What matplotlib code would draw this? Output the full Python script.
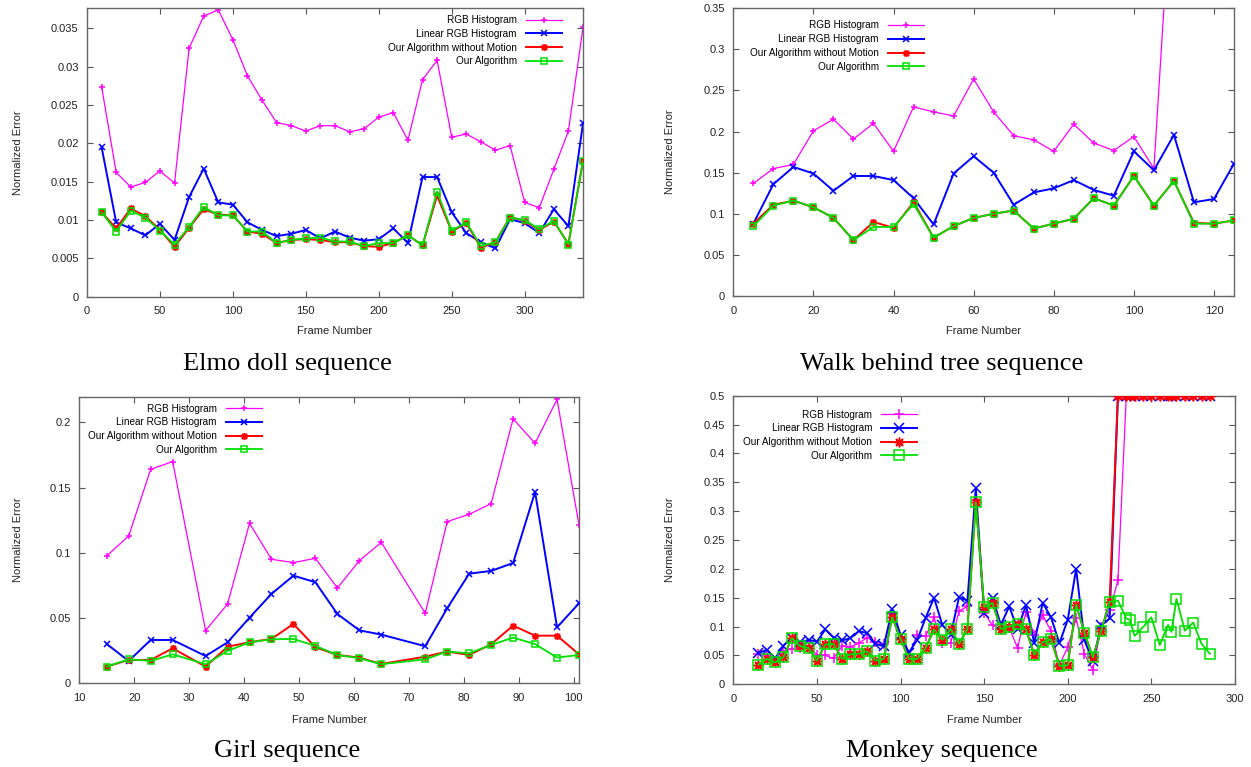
import matplotlib
matplotlib.use("Agg")
import matplotlib.pyplot as plt
from matplotlib.ticker import FuncFormatter, MultipleLocator

plt.rcParams['font.family'] = ['Liberation Sans', 'DejaVu Sans']

# ---------------- data ----------------
series_names = ["RGB Histogram", "Linear RGB Histogram",
                "Our Algorithm without Motion", "Our Algorithm"]

# Elmo doll sequence
elmo_x = [10, 20, 30, 40, 50, 60, 70, 80, 90, 100, 110, 120, 130, 140, 150, 160, 170,
          180, 190, 200, 210, 220, 230, 240, 250, 260, 270, 280, 290, 300, 310, 320, 330, 340]
elmo_rgb = [0.0274, 0.0162, 0.0143, 0.0149, 0.0164, 0.0148, 0.0324, 0.0366, 0.0374, 0.0335,
            0.0288, 0.0256, 0.0227, 0.0223, 0.0216, 0.0223, 0.0223, 0.0215, 0.0219, 0.0234,
            0.0240, 0.0204, 0.0283, 0.0308, 0.0208, 0.0212, 0.0202, 0.0191, 0.0197, 0.0123,
            0.0116, 0.0166, 0.0216, 0.0351]
elmo_lin = [0.0195, 0.0097, 0.0089, 0.0080, 0.0095, 0.0074, 0.0130, 0.0167, 0.0123, 0.0120,
            0.0097, 0.0087, 0.0079, 0.0082, 0.0087, 0.0076, 0.0085, 0.0077, 0.0073, 0.0075,
            0.0089, 0.0070, 0.0156, 0.0156, 0.0110, 0.0083, 0.0071, 0.0063, 0.0101, 0.0096,
            0.0083, 0.0114, 0.0092, 0.0226]
elmo_nomo = [0.0110, 0.0089, 0.0115, 0.0105, 0.0087, 0.0065, 0.0090, 0.0114, 0.0107, 0.0106,
             0.0085, 0.0082, 0.0070, 0.0074, 0.0075, 0.0074, 0.0071, 0.0071, 0.0066, 0.0065,
             0.0070, 0.0080, 0.0067, 0.0132, 0.0085, 0.0096, 0.0064, 0.0071, 0.0104, 0.0099,
             0.0087, 0.0098, 0.0069, 0.0177]
elmo_ours = [0.0110, 0.0085, 0.0112, 0.0103, 0.0086, 0.0068, 0.0091, 0.0117, 0.0106, 0.0106,
             0.0085, 0.0085, 0.0070, 0.0074, 0.0076, 0.0077, 0.0072, 0.0072, 0.0066, 0.0070,
             0.0070, 0.0080, 0.0067, 0.0137, 0.0086, 0.0097, 0.0066, 0.0071, 0.0103, 0.0100,
             0.0088, 0.0099, 0.0068, 0.0177]

# Walk behind tree sequence
walk_x = [5, 10, 15, 20, 25, 30, 35, 40, 45, 50, 55, 60, 65, 70, 75, 80, 85, 90, 95, 100,
          105, 110, 115, 120, 125]
walk_rgb = [0.137, 0.155, 0.160, 0.201, 0.215, 0.191, 0.210, 0.176, 0.230, 0.224, 0.219,
            0.264, 0.224, 0.195, 0.190, 0.176, 0.209, 0.186, 0.177, 0.194, 0.155, 0.545,
            0.60, 0.60, 0.60]
walk_lin = [0.088, 0.136, 0.157, 0.149, 0.128, 0.146, 0.146, 0.141, 0.119, 0.087, 0.149,
            0.170, 0.150, 0.111, 0.126, 0.131, 0.141, 0.129, 0.122, 0.176, 0.153, 0.196,
            0.114, 0.118, 0.161]
walk_nomo = [0.088, 0.111, 0.116, 0.108, 0.095, 0.068, 0.090, 0.083, 0.114, 0.071, 0.085,
             0.095, 0.100, 0.104, 0.082, 0.088, 0.094, 0.119, 0.110, 0.146, 0.110, 0.140,
             0.089, 0.088, 0.092]
walk_ours = [0.085, 0.110, 0.116, 0.108, 0.095, 0.068, 0.084, 0.084, 0.112, 0.071, 0.085,
             0.095, 0.100, 0.104, 0.082, 0.088, 0.094, 0.119, 0.110, 0.146, 0.110, 0.140,
             0.088, 0.088, 0.092]

# Girl sequence
girl_x = [15, 19, 23, 27, 33, 37, 41, 45, 49, 53, 57, 61, 65, 73, 77, 81, 85, 89, 93, 97, 101]
girl_rgb = [0.0976, 0.1129, 0.1640, 0.1699, 0.0404, 0.0608, 0.1226, 0.0950, 0.0925, 0.0958,
            0.0730, 0.0940, 0.1080, 0.0536, 0.1239, 0.1295, 0.1377, 0.2026, 0.1839, 0.2176,
            0.1213]
girl_lin = [0.0301, 0.0171, 0.0332, 0.0332, 0.0209, 0.0314, 0.0503, 0.0685, 0.0825, 0.0774,
            0.0531, 0.0406, 0.0373, 0.0284, 0.0575, 0.0840, 0.0861, 0.0922, 0.1466, 0.0429,
            0.0613]
girl_nomo = [0.0128, 0.0179, 0.0179, 0.0268, 0.0128, 0.0281, 0.0314, 0.0340, 0.0455, 0.0276,
             0.0217, 0.0197, 0.0148, 0.0204, 0.0243, 0.0217, 0.0299, 0.0442, 0.0365, 0.0365,
             0.0222]
girl_ours = [0.0128, 0.0184, 0.0171, 0.0222, 0.0146, 0.0248, 0.0314, 0.0337, 0.0340, 0.0286,
             0.0217, 0.0192, 0.0146, 0.0184, 0.0243, 0.0230, 0.0294, 0.0350, 0.0301, 0.0197,
             0.0217]

# Monkey sequence
monkey_x = [15, 20, 25, 30, 35, 40, 45, 50, 55, 60, 65, 70, 75, 80, 85, 90, 95, 100, 105, 110,
            115, 120, 125, 130, 135, 140, 145, 150, 155, 160, 165, 170, 175, 180, 185, 190,
            195, 200, 205, 210, 215, 220, 225, 230, 235, 237, 240, 245, 250, 255, 260, 262,
            265, 270, 275, 280, 285]
monkey_rgb = [0.052, 0.051, 0.040, 0.057, 0.062, 0.063, 0.066, 0.051, 0.050, 0.045, 0.066,
              0.065, 0.071, 0.081, 0.074, 0.069, 0.124, 0.080, 0.051, 0.086, 0.083, 0.116,
              0.071, 0.071, 0.127, 0.135, 0.320, 0.124, 0.102, 0.095, 0.098, 0.063, 0.125,
              0.086, 0.120, 0.092, 0.033, 0.065, 0.114, 0.052, 0.025, 0.099, 0.128, 0.180,
              0.5, 0.5, 0.5, 0.5, 0.5, 0.5, 0.5, 0.5, 0.5, 0.5, 0.5, 0.5, 0.5]
monkey_lin = [0.054, 0.060, 0.045, 0.067, 0.080, 0.073, 0.077, 0.074, 0.095, 0.081, 0.076,
              0.080, 0.092, 0.089, 0.070, 0.066, 0.130, 0.086, 0.055, 0.077, 0.115, 0.150,
              0.103, 0.086, 0.151, 0.145, 0.340, 0.124, 0.150, 0.103, 0.135, 0.095, 0.137,
              0.071, 0.141, 0.116, 0.071, 0.112, 0.200, 0.076, 0.040, 0.102, 0.114, 0.5,
              0.5, 0.5, 0.5, 0.5, 0.5, 0.5, 0.5, 0.5, 0.5, 0.5, 0.5, 0.5, 0.5]
monkey_nomo = [0.034, 0.044, 0.038, 0.047, 0.080, 0.066, 0.063, 0.041, 0.069, 0.070, 0.044,
               0.052, 0.053, 0.057, 0.041, 0.044, 0.116, 0.079, 0.044, 0.044, 0.063, 0.095,
               0.077, 0.096, 0.070, 0.096, 0.315, 0.134, 0.141, 0.096, 0.100, 0.104, 0.095,
               0.051, 0.073, 0.078, 0.032, 0.033, 0.138, 0.089, 0.047, 0.093, 0.143, 0.5,
               0.5, 0.5, 0.5, 0.5, 0.5, 0.5, 0.5, 0.5, 0.5, 0.5, 0.5, 0.5, 0.5]
monkey_ours = [0.034, 0.044, 0.038, 0.047, 0.080, 0.066, 0.063, 0.041, 0.069, 0.070, 0.044,
               0.052, 0.053, 0.057, 0.041, 0.044, 0.116, 0.079, 0.044, 0.044, 0.063, 0.095,
               0.077, 0.096, 0.070, 0.096, 0.315, 0.134, 0.141, 0.096, 0.100, 0.104, 0.095,
               0.051, 0.073, 0.078, 0.032, 0.033, 0.138, 0.089, 0.047, 0.093, 0.143, 0.145,
               0.114, 0.112, 0.084, 0.099, 0.116, 0.068, 0.103, 0.091, 0.148, 0.093, 0.107,
               0.070, 0.053]

captions = ["Elmo doll sequence", "Walk behind tree sequence", "Girl sequence", "Monkey sequence"]

# ---------------- styles ----------------
colors = ["#ff00ff", "#0000ff", "#ff0000", "#00e000"]
markers = ["+", "x", (8, 2, 0), "s"]
lws = [0.9, 1.4, 1.4, 1.3]

W, H = 1251, 767
fig = plt.figure(figsize=(W / 100, H / 100), dpi=100)


def px_axes(left, top, right, bottom):
    return fig.add_axes([left / W, 1 - bottom / H, (right - left) / W, (bottom - top) / H])


panels = [
    dict(rect=(87, 8.3, 583, 296.7), x=elmo_x,
         ys=[elmo_rgb, elmo_lin, elmo_nomo, elmo_ours],
         xlim=(0, 340), ylim=(0, 0.0376), xmaj=50, ymaj=0.005, ms=5,
         leg=(562, 15), ylab_x=18, xlab_y=331, cap=(287, 364)),
    dict(rect=(733.3, 8.3, 1234, 296), x=walk_x,
         ys=[walk_rgb, walk_lin, walk_nomo, walk_ours],
         xlim=(0, 125), ylim=(0, 0.35), xmaj=20, ymaj=0.05, ms=5,
         leg=(924, 20.5), ylab_x=670, xlab_y=331, cap=(942, 364)),
    dict(rect=(79.3, 396.7, 579, 683.3), x=girl_x,
         ys=[girl_rgb, girl_lin, girl_nomo, girl_ours],
         xlim=(10, 101), ylim=(0, 0.2196), xmaj=10, ymaj=0.05, ms=5,
         leg=(262, 403.5), ylab_x=18, xlab_y=720, cap=(287, 751)),
    dict(rect=(733.3, 395.7, 1235, 684.3), x=monkey_x,
         ys=[monkey_rgb, monkey_lin, monkey_nomo, monkey_ours],
         xlim=(0, 300), ylim=(0, 0.5), xmaj=50, ymaj=0.05, ms=7,
         leg=(917.3, 409.5), ylab_x=670, xlab_y=720, cap=(942, 751)),
]

fmt = FuncFormatter(lambda v, p: "%g" % round(v, 6))

for p in panels:
    l, t, r, b = p["rect"]
    ax = px_axes(l, t, r, b)
    for i in range(4):
        ax.plot(p["x"], p["ys"][i], color=colors[i], lw=lws[i], marker=markers[i],
                ms=p["ms"], mew=1.1, mfc="none" if i == 3 else colors[i],
                label=series_names[i], clip_on=True, zorder=2 + i)
    ax.set_xlim(*p["xlim"])
    ax.set_ylim(*p["ylim"])
    ax.xaxis.set_major_locator(MultipleLocator(p["xmaj"]))
    ax.yaxis.set_major_locator(MultipleLocator(p["ymaj"]))
    ax.xaxis.set_major_formatter(fmt)
    ax.yaxis.set_major_formatter(fmt)
    ax.tick_params(direction="in", top=True, right=True, length=4, width=0.8,
                   color="#555555", labelsize=8, labelcolor="#222222")
    ax.tick_params(axis="x", pad=7)
    ax.tick_params(axis="y", pad=6)
    for s in ax.spines.values():
        s.set_color("#666666")
        s.set_linewidth(1.0)
    ax.set_xlabel("Frame Number", fontsize=8, color="#222222", va="center")
    ax.xaxis.set_label_coords(0.5, -(p["xlab_y"] - b) / (b - t))
    ax.set_ylabel("Normalized Error", fontsize=8, color="#222222", va="center")
    ax.yaxis.set_label_coords((p["ylab_x"] - l) / (r - l), 0.5)
    lx, ly = p["leg"]
    ax.legend(loc="upper right", bbox_to_anchor=((lx - l) / (r - l), (b - ly) / (b - t)),
              frameon=False, markerfirst=False, fontsize=7.2, handlelength=3.6,
              handletextpad=0.9, labelspacing=0.38, borderpad=0, borderaxespad=0,
              numpoints=1)

for p, c in zip(panels, captions):
    cx, cy = p["cap"]
    fig.text(cx / W, 1 - cy / H, c, ha="center", va="center", fontsize=19,
             family=["Liberation Serif", "DejaVu Serif"])

fig.savefig("out.png", dpi=100)
